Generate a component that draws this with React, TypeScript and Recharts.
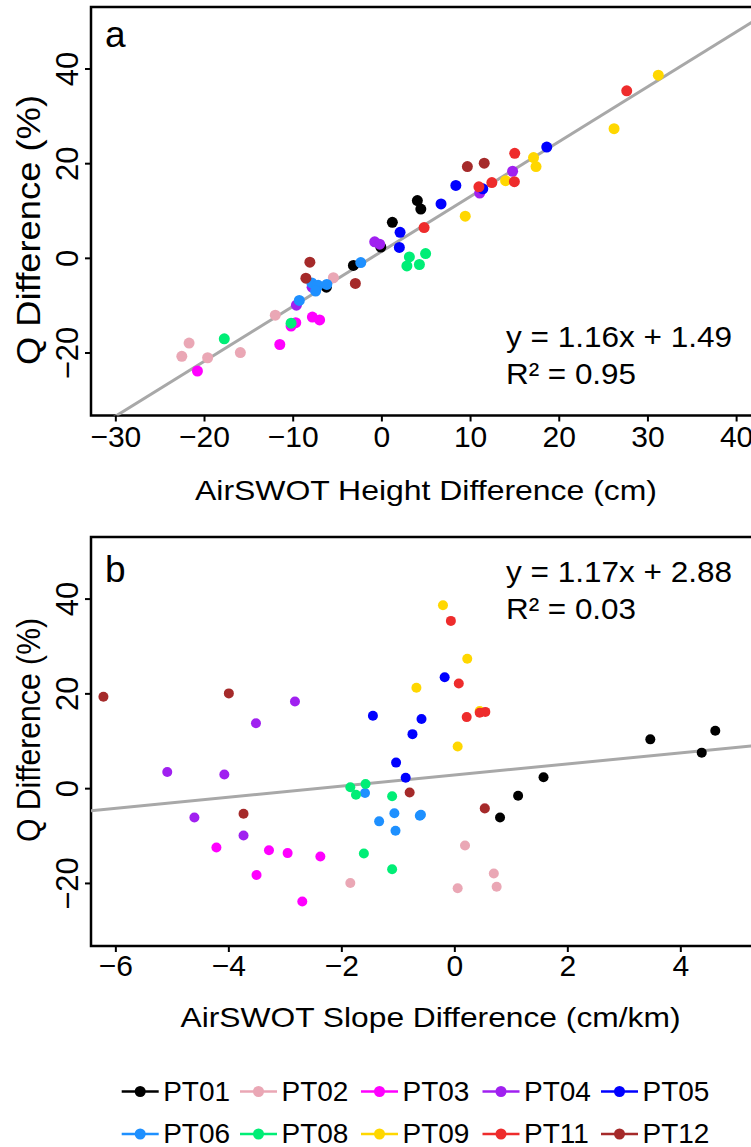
import { ReferenceArea, ReferenceLine, Scatter, ScatterChart, XAxis, YAxis } from "recharts";

const FONT = '"Liberation Sans", Arial, Helvetica, sans-serif';

const sites = ["PT01", "PT02", "PT03", "PT04", "PT05", "PT06", "PT08", "PT09", "PT11", "PT12"];
const siteColors = [
  "#000000", "#EAA7B5", "#FF00FF", "#A020F0", "#0000FF",
  "#1E90FF", "#00EE76", "#FFD700", "#EE2C2C", "#A52A2A",
];

// Q difference (%) per site, shared by both panels
const qDiff = [
  [-6.1, -1.5, 2.4, 7.6, 12.2, 10.4],
  [-20.7, -17.9, -21.0, -19.9, -12.0, -4.1],
  [-23.8, -18.2, -14.3, -13.6, -12.4, -13.0],
  [-9.9, -6.1, 3.5, 3.0, 13.8, 18.4],
  [5.5, 2.3, 11.5, 15.4, 14.7, 23.5],
  [-8.9, -5.2, -5.7, -6.9, -5.5, -0.9],
  [-17.0, -13.7, 0.3, -1.6, -1.3, 1.0],
  [8.9, 16.4, 21.3, 19.4, 27.4, 38.7],
  [6.5, 15.1, 16.0, 22.2, 16.2, 35.4],
  [-0.8, -4.2, -5.3, 19.4, 20.1],
];

// AirSWOT height difference (cm)
const heightDiff = [
  [-6.26, -3.21, -0.12, 1.18, 4.0, 4.39],
  [-22.56, -21.74, -19.65, -15.96, -12.02, -5.47],
  [-20.8, -11.51, -10.24, -9.71, -7.84, -7.02],
  [-9.64, -7.87, -0.81, -0.25, 11.03, 14.74],
  [2.05, 1.97, 6.67, 8.34, 11.38, 18.59],
  [-9.31, -7.9, -7.19, -7.47, -6.21, -2.38],
  [-17.77, -10.24, 3.1, 2.82, 4.23, 4.93],
  [9.4, 13.95, 17.1, 17.38, 26.18, 31.17],
  [4.76, 10.94, 12.4, 14.98, 14.94, 27.61],
  [-8.12, -8.57, -2.99, 9.64, 11.54],
];

// AirSWOT slope difference (cm/km); null = not shown in panel b
const slopeDiff = [
  [0.8, 1.12, 1.57, 4.37, 4.61, 3.46],
  [0.74, 0.69, 0.05, -1.85, 0.18, 0.53],
  [-2.7, -3.51, -2.38, -2.96, -4.22, -3.29],
  [-3.74, -4.61, -5.09, -4.08, -3.52, -2.83],
  [-1.04, -0.87, -0.75, -1.45, -0.59, -0.18],
  [-1.05, -1.07, -0.62, -1.34, -0.6, -1.59],
  [-1.11, -1.61, -1.85, -1.11, -1.75, -1.58],
  [0.05, 0.44, -0.68, null, 0.22, -0.21],
  [null, 0.21, 0.44, 0.07, 0.54, -0.07],
  [-0.8, 0.53, -3.74, -6.22, -4.0],
];

const heightTicks = [-30, -20, -10, 0, 10, 20, 30, 40];
const slopeTicks = [-6, -4, -2, 0, 2, 4];
const qTicks = [-20, 0, 20, 40];

const fitSlope = [1.16, 1.17];
const fitIntercept = [1.49, 2.88];
const fitR2 = [0.95, 0.03];

const qDomain: [number, number] = [-33.2, 53.1];

const fmt = (v: number) => (v < 0 ? "\u2212" + Math.abs(v) : String(v));

type PanelProps = {
  top: number;
  height: number;
  plotTop: number;
  plotBottom: number;
  xs: (number | null)[][];
  xDomain: [number, number];
  xTicks: number[];
  fit: number;
  tickBase: number;
  xTitle: string;
  xTitleX: number;
  xTitleLen: number;
  xTitleBase: number;
  yTitleY: number;
  yTitleLen: number;
  dotR: number;
};

function Panel(p: PanelProps) {
  const [x0, x1] = p.xDomain;
  const m = fitSlope[p.fit];
  const b = fitIntercept[p.fit];
  return (
    <div style={{ position: "absolute", left: 0, top: p.top }}>
      <ScatterChart
        width={800}
        height={p.height}
        margin={{ top: p.plotTop - p.top, right: 35, bottom: 0, left: 0 }}
      >
        <XAxis
          type="number"
          dataKey="x"
          domain={p.xDomain}
          ticks={p.xTicks}
          allowDataOverflow
          height={p.top + p.height - p.plotBottom}
          axisLine={false}
          tickSize={6}
          tickLine={{ stroke: "#000", strokeWidth: 2 }}
          tick={(t: any) => (
            <text
              x={t.x}
              y={p.tickBase - p.top}
              textAnchor="middle"
              fontSize={30}
              fontFamily={FONT}
              fill="#000"
            >
              {fmt(t.payload.value)}
            </text>
          )}
          label={{
            content: () => (
              <text
                x={p.xTitleX}
                y={p.xTitleBase - p.top}
                textAnchor="middle"
                fontSize={28}
                fontFamily={FONT}
                fill="#000"
                textLength={p.xTitleLen}
                lengthAdjust="spacingAndGlyphs"
              >
                {p.xTitle}
              </text>
            ),
          }}
        />
        <YAxis
          type="number"
          dataKey="y"
          domain={qDomain}
          ticks={qTicks}
          allowDataOverflow
          width={91}
          axisLine={false}
          tickSize={6}
          tickLine={{ stroke: "#000", strokeWidth: 2 }}
          tick={(t: any) => (
            <text
              transform={`translate(78,${t.y}) rotate(-90)`}
              textAnchor="middle"
              fontSize={31}
              fontFamily={FONT}
              fill="#000"
            >
              {fmt(t.payload.value)}
            </text>
          )}
          label={{
            content: () => (
              <text
                transform={`translate(40,${p.yTitleY - p.top}) rotate(-90)`}
                textAnchor="middle"
                fontSize={34}
                fontFamily={FONT}
                fill="#000"
                textLength={p.yTitleLen}
                lengthAdjust="spacingAndGlyphs"
              >
                Q Difference (%)
              </text>
            ),
          }}
        />
        {sites.map((site, i) => (
          <Scatter
            key={site}
            name={site}
            isAnimationActive={false}
            data={p.xs[i]
              .map((x, j) => ({ x, y: qDiff[i][j] }))
              .filter((d) => d.x !== null)}
            shape={(s: any) => <circle cx={s.cx} cy={s.cy} r={p.dotR} fill={siteColors[i]} />}
          />
        ))}
        <ReferenceLine
          segment={[
            { x: x0, y: m * x0 + b },
            { x: x1, y: m * x1 + b },
          ]}
          stroke="#A8A8A8"
          strokeWidth={3}
          ifOverflow="hidden"
        />
        <ReferenceArea
          x1={x0}
          x2={x1}
          y1={qDomain[0]}
          y2={qDomain[1]}
          fill="none"
          stroke="#000"
          strokeWidth={2.5}
        />
      </ScatterChart>
    </div>
  );
}

const legendCols = [121.7, 240, 361, 482.5, 601];
const legendRows = [1091.5, 1134];

function Overlay() {
  const eq = (fit: number, base1: number, base2: number) => (
    <g fontFamily={FONT} fontSize={30} fill="#000">
      <text x={506} y={base1} textLength={226} lengthAdjust="spacingAndGlyphs">
        {`y = ${fitSlope[fit].toFixed(2)}x + ${fitIntercept[fit].toFixed(2)}`}
      </text>
      <text x={506} y={base2} textLength={130} lengthAdjust="spacingAndGlyphs">
        {`R\u00b2 = ${fitR2[fit].toFixed(2)}`}
      </text>
    </g>
  );
  return (
    <svg
      width={751}
      height={1147}
      style={{ position: "absolute", left: 0, top: 0, pointerEvents: "none" }}
    >
      <text x={105} y={46.7} fontSize={37} fontFamily={FONT} fill="#000">a</text>
      <text x={105} y={581.7} fontSize={37} fontFamily={FONT} fill="#000">b</text>
      {eq(0, 346.7, 384)}
      {eq(1, 581.7, 619.3)}
      {sites.map((site, i) => {
        const cx = legendCols[i % 5];
        const cy = legendRows[Math.floor(i / 5)];
        return (
          <g key={site}>
            <line x1={cx} x2={cx + 37} y1={cy} y2={cy} stroke={siteColors[i]} strokeWidth={2.5} />
            <circle cx={cx + 18.5} cy={cy} r={5.5} fill={siteColors[i]} />
            <text x={cx + 41.5} y={cy + 9} fontSize={28} fontFamily={FONT} fill="#000">
              {site}
            </text>
          </g>
        );
      })}
    </svg>
  );
}

export default function App() {
  return (
    <div
      style={{
        position: "absolute",
        left: 0,
        top: 0,
        width: 751,
        height: 1147,
        overflow: "hidden",
        background: "#fff",
      }}
    >
      <Panel
        top={0}
        height={530}
        plotTop={7}
        plotBottom={415.5}
        xs={heightDiff}
        xDomain={[-32.8, 43.2]}
        xTicks={heightTicks}
        fit={0}
        tickBase={446.7}
        xTitle="AirSWOT Height Difference (cm)"
        xTitleX={426}
        xTitleLen={462}
        xTitleBase={500}
        yTitleY={230}
        yTitleLen={270}
        dotR={5.5}
      />
      <Panel
        top={520}
        height={627}
        plotTop={537}
        plotBottom={946}
        xs={slopeDiff}
        xDomain={[-6.44, 5.49]}
        xTicks={slopeTicks}
        fit={1}
        tickBase={976}
        xTitle="AirSWOT Slope Difference (cm/km)"
        xTitleX={430.5}
        xTitleLen={500}
        xTitleBase={1026.7}
        yTitleY={730}
        yTitleLen={224}
        dotR={5}
      />
      <Overlay />
    </div>
  );
}
